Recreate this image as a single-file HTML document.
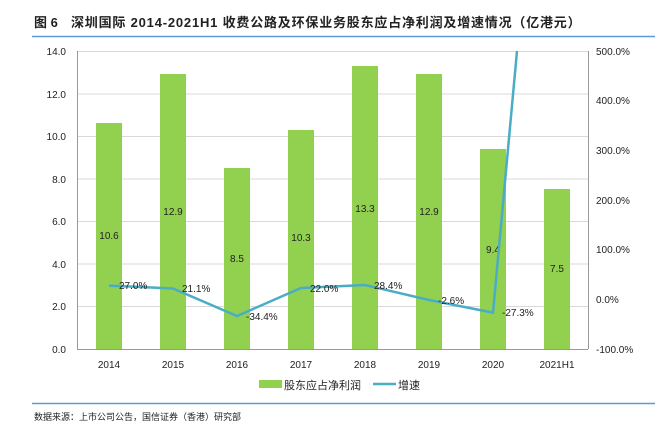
<!DOCTYPE html>
<html><head><meta charset="utf-8"><style>
body{margin:0;background:#fff;width:661px;height:428px;overflow:hidden}
svg{display:block;font-family:"Liberation Sans","Noto Sans CJK SC",sans-serif}
</style></head><body>
<svg width="661" height="428" viewBox="0 0 661 428">
<text x="34" y="27" font-size="13" font-weight="bold" fill="#222">图 6</text>
<text x="71" y="27" font-size="13" font-weight="bold" fill="#222" letter-spacing="0.8">深圳国际 2014-2021H1 收费公路及环保业务股东应占净利润及增速情况（亿港元）</text>
<line x1="32" y1="36.5" x2="655" y2="36.5" stroke="#5b9bd5" stroke-width="1.5"/>
<g stroke="#d9d9d9" stroke-width="1">
<line x1="77" y1="51.5" x2="588" y2="51.5"/><line x1="77" y1="94" x2="588" y2="94"/><line x1="77" y1="136.5" x2="588" y2="136.5"/><line x1="77" y1="179" x2="588" y2="179"/><line x1="77" y1="221.5" x2="588" y2="221.5"/><line x1="77" y1="264" x2="588" y2="264"/><line x1="77" y1="306.5" x2="588" y2="306.5"/>
</g>
<g stroke="#999" stroke-width="1">
<line x1="77.5" y1="51" x2="77.5" y2="349"/><line x1="588.5" y1="51" x2="588.5" y2="349"/><line x1="77" y1="349.5" x2="588" y2="349.5"/>
</g>
<g fill="#92d050">
<rect x="96" y="123" width="26" height="226"/><rect x="160" y="74" width="26" height="275"/><rect x="224" y="168" width="26" height="181"/><rect x="288" y="130" width="26" height="219"/><rect x="352" y="66" width="26" height="283"/><rect x="416" y="74" width="26" height="275"/><rect x="480" y="149" width="26" height="200"/><rect x="544" y="189" width="26" height="160"/>
</g>
<g font-size="10" fill="#222" text-anchor="end">
<text x="66" y="55">14.0</text><text x="66" y="98">12.0</text><text x="66" y="140">10.0</text><text x="66" y="183">8.0</text><text x="66" y="225">6.0</text><text x="66" y="268">4.0</text><text x="66" y="310">2.0</text><text x="66" y="353">0.0</text>
</g>
<g font-size="10" fill="#222">
<text x="596" y="55">500.0%</text><text x="596" y="104">400.0%</text><text x="596" y="154">300.0%</text><text x="596" y="204">200.0%</text><text x="596" y="253">100.0%</text><text x="596" y="303">0.0%</text><text x="596" y="353">-100.0%</text>
</g>
<g font-size="10" fill="#222" text-anchor="middle">
<text x="109" y="368">2014</text><text x="173" y="368">2015</text><text x="237" y="368">2016</text><text x="301" y="368">2017</text><text x="365" y="368">2018</text><text x="429" y="368">2019</text><text x="493" y="368">2020</text><text x="557" y="368">2021H1</text>
<text x="109" y="239">10.6</text><text x="173" y="215">12.9</text><text x="237" y="262">8.5</text><text x="301" y="241">10.3</text><text x="365" y="212">13.3</text><text x="429" y="215">12.9</text><text x="493" y="253">9.4</text><text x="557" y="272">7.5</text>
</g>
<polyline fill="none" stroke="#4bacc6" stroke-width="2.5" points="109,285.6 173,288.5 237,316 301,288 365,285 429,300 493,312.6 517,51"/>
<g font-size="10" fill="#222">
<text x="119" y="289">27.0%</text><text x="182" y="292">21.1%</text><text x="246" y="320">-34.4%</text><text x="310" y="292">22.0%</text><text x="374" y="289">28.4%</text><text x="438" y="304">-2.6%</text><text x="502" y="316">-27.3%</text>
</g>
<rect x="259" y="380" width="23" height="8" fill="#92d050"/>
<text x="284" y="389" font-size="11" fill="#222">股东应占净利润</text>
<line x1="373" y1="384" x2="396" y2="384" stroke="#4bacc6" stroke-width="2.5"/>
<text x="398" y="389" font-size="11" fill="#222">增速</text>
<line x1="32" y1="403.5" x2="655" y2="403.5" stroke="#5b9bd5" stroke-width="1.5"/>
<text x="34" y="420" font-size="9" fill="#222">数据来源：上市公司公告，国信证券（香港）研究部</text>
</svg>
</body></html>
